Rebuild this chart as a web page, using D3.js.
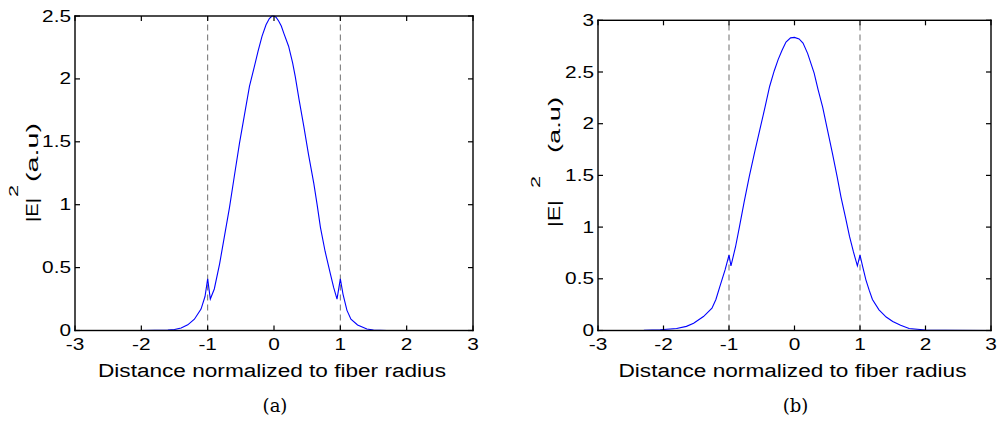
<!DOCTYPE html>
<html>
<head>
<meta charset="utf-8">
<script src="https://cdn.jsdelivr.net/npm/d3@7"></script>
<style>
  html, body { margin: 0; padding: 0; background: #fff; }
  svg { display: block; }
</style>
</head>
<body>
<svg id="fig" width="1001" height="434"></svg>
<script>
// ── Data ──────────────────────────────────────────────────────────────────────
const xTicks  = [-3, -2, -1, 0, 1, 2, 3];
const yTicksA = [0, 0.5, 1, 1.5, 2, 2.5];
const yTicksB = [0, 0.5, 1, 1.5, 2, 2.5, 3];
const coreEdges = [-1, 1];

// panel (a)
const xA = [-3, -2, -1.6, -1.5, -1.4, -1.3, -1.2, -1.1, -1.04, -1.0, -0.96, -0.9, -0.82, -0.75, -0.67, -0.6,
            -0.52, -0.45, -0.37, -0.3, -0.24, -0.18, -0.12, -0.07, -0.03, 0, 0.03, 0.07, 0.11, 0.15, 0.22, 0.28, 0.32,
            0.38, 0.45, 0.52, 0.6, 0.65, 0.7, 0.77, 0.85, 0.9, 0.95, 1.0, 1.04, 1.1, 1.16, 1.26, 1.4, 1.5, 1.7, 3];
const yA = [0, 0, 0.003, 0.008, 0.02, 0.045, 0.09, 0.17, 0.27, 0.41, 0.25, 0.33, 0.53, 0.74, 0.98, 1.22,
            1.49, 1.70, 1.94, 2.09, 2.22, 2.34, 2.43, 2.48, 2.5, 2.5, 2.49, 2.46, 2.42, 2.36, 2.26, 2.13, 2.02,
            1.83, 1.62, 1.40, 1.17, 1.00, 0.82, 0.63, 0.45, 0.34, 0.25, 0.41, 0.29, 0.16, 0.09, 0.044, 0.012, 0.004, 0, 0];

// panel (b)
const xB = [-3, -2.3, -2.05, -1.8, -1.65, -1.54, -1.39, -1.26, -1.2, -1.14, -1.06, -1.0, -0.97, -0.9, -0.84, -0.77,
            -0.69, -0.61, -0.53, -0.45, -0.38, -0.31, -0.25, -0.19, -0.13, -0.06, 0, 0.07, 0.13, 0.2, 0.3, 0.36,
            0.43, 0.5, 0.58, 0.65, 0.71, 0.78, 0.84, 0.9, 0.96, 1.0, 1.04, 1.09, 1.14, 1.19, 1.29, 1.4, 1.5, 1.62,
            1.75, 2.0, 2.3, 3];
const yB = [0, 0.002, 0.007, 0.02, 0.04, 0.07, 0.135, 0.216, 0.3, 0.425, 0.586, 0.73, 0.625, 0.81, 1.005, 1.24,
            1.49, 1.72, 1.94, 2.16, 2.36, 2.51, 2.62, 2.71, 2.79, 2.83, 2.835, 2.82, 2.78, 2.68, 2.49, 2.33,
            2.16, 1.95, 1.71, 1.49, 1.29, 1.09, 0.91, 0.76, 0.625, 0.73, 0.62, 0.49, 0.39, 0.30, 0.20, 0.13, 0.087, 0.05,
            0.02, 0.005, 0.001, 0];

const xLabel   = 'Distance normalized to fiber radius';
const yLabel   = ['|E|', '2', '(a.u)'];
const captions = ['(a)', '(b)'];

// ── Helpers ───────────────────────────────────────────────────────────────────
const FONT = 'Arial, "Liberation Sans", Helvetica, sans-serif';
const INK  = '#000';
const svg = d3.select('#fig');

// the source figure renders its sans text wide, so stretch glyphs along the baseline
function widen(sel, k) {
  sel.each(function () {
    const w = this.getComputedTextLength();
    d3.select(this).attr('textLength', w * k).attr('lengthAdjust', 'spacingAndGlyphs');
  });
}

function drawPanel(p) {
  const x = d3.scaleLinear().domain([-3, 3]).range([p.left, p.right]);
  const y = d3.scaleLinear().domain([0, p.yMax]).range([p.bottom, p.top]);
  const g = svg.append('g');
  const tk = 5, lw = 1.4;

  // dashed core boundaries
  g.selectAll('line.edge').data(coreEdges).enter().append('line')
    .attr('class', 'edge')
    .attr('x1', d => x(d)).attr('x2', d => x(d))
    .attr('y1', y(0)).attr('y2', y(p.yMax))
    .attr('stroke', '#6e6e6e').attr('stroke-width', 1).attr('stroke-dasharray', '6,4');

  // curve
  const pts = p.xs.map((v, i) => [v, p.ys[i]]);
  g.append('path').datum(pts)
    .attr('fill', 'none').attr('stroke', '#0000ff').attr('stroke-width', 1.1)
    .attr('d', d3.line().x(d => x(d[0])).y(d => y(d[1])));

  // box: filled strips along the four sides
  const x0 = x(-3), x1 = x(3), yb = y(0), yt = y(p.yMax);
  const strips = [
    [x0 - lw / 2, yb - lw / 2, x1 - x0 + lw, lw],
    [x0 - lw / 2, yt - lw / 2, x1 - x0 + lw, lw],
    [x0 - lw / 2, yt - lw / 2, lw, yb - yt + lw],
    [x1 - lw / 2, yt - lw / 2, lw, yb - yt + lw]
  ];
  g.selectAll('rect.side').data(strips).enter().append('rect')
    .attr('class', 'side')
    .attr('x', d => d[0]).attr('y', d => d[1])
    .attr('width', d => d[2]).attr('height', d => d[3])
    .attr('fill', INK);

  // inward ticks on all four sides (MATLAB style), also as filled strips
  g.selectAll('rect.txb').data(xTicks).enter().append('rect').attr('class', 'txb')
    .attr('x', d => x(d) - 0.6).attr('y', yb - tk).attr('width', 1.2).attr('height', tk).attr('fill', INK);
  g.selectAll('rect.txt').data(xTicks).enter().append('rect').attr('class', 'txt')
    .attr('x', d => x(d) - 0.6).attr('y', yt).attr('width', 1.2).attr('height', tk).attr('fill', INK);
  g.selectAll('rect.tyl').data(p.yTicks).enter().append('rect').attr('class', 'tyl')
    .attr('x', x0).attr('y', d => y(d) - 0.6).attr('width', tk).attr('height', 1.2).attr('fill', INK);
  g.selectAll('rect.tyr').data(p.yTicks).enter().append('rect').attr('class', 'tyr')
    .attr('x', x1 - tk).attr('y', d => y(d) - 0.6).attr('width', tk).attr('height', 1.2).attr('fill', INK);

  // tick labels
  g.selectAll('text.xt').data(xTicks).enter().append('text')
    .attr('class', 'xt')
    .attr('x', d => x(d)).attr('y', p.bottom + 19)
    .attr('text-anchor', 'middle')
    .style('font-family', FONT).style('font-size', '16px')
    .text(d => d)
    .call(widen, 1.3);
  g.selectAll('text.yt').data(p.yTicks).enter().append('text')
    .attr('class', 'yt')
    .attr('x', p.left - 4).attr('y', d => y(d) + 5.5)
    .attr('text-anchor', 'end')
    .style('font-family', FONT).style('font-size', '16px')
    .text(d => d)
    .call(widen, 1.3);

  // x label
  g.append('text')
    .attr('x', (p.left + p.right) / 2 - 2).attr('y', 377)
    .attr('text-anchor', 'middle')
    .style('font-family', FONT).style('font-size', '18px')
    .attr('textLength', 348).attr('lengthAdjust', 'spacingAndGlyphs')
    .text(xLabel);

  // y label: |E| ^2 (a.u), rotated
  const yl = g.append('g').attr('transform', `translate(${p.ylX},${p.ylY}) rotate(-90)`);
  yl.selectAll('text').data(yLabel).enter().append('text')
    .attr('x', (d, i) => p.ylPos[i])
    .attr('y', (d, i) => i === 1 ? -20 : 0)
    .style('font-family', FONT)
    .style('font-size', (d, i) => i === 1 ? '12px' : '17px')
    .attr('textLength', (d, i) => p.ylLen[i]).attr('lengthAdjust', 'spacingAndGlyphs')
    .text(d => d);

  // caption
  g.append('text')
    .attr('x', (p.left + p.right) / 2 + 1).attr('y', 412)
    .attr('text-anchor', 'middle')
    .style('font-family', '"DejaVu Serif", "Liberation Serif", serif').style('font-size', '18px')
    .text(p.caption);
}

drawPanel({ left: 75, right: 473, top: 16, bottom: 330.5, yMax: 2.5, yTicks: yTicksA,
            xs: xA, ys: yA, caption: captions[0],
            ylX: 38, ylY: 222, ylPos: [0, 25, 40], ylLen: [24, 12, 59] });
drawPanel({ left: 598, right: 991, top: 20.3, bottom: 330.5, yMax: 3, yTicks: yTicksB,
            xs: xB, ys: yB, caption: captions[1],
            ylX: 560, ylY: 227, ylPos: [0, 39, 74], ylLen: [27, 12, 56] });
</script>
</body>
</html>
